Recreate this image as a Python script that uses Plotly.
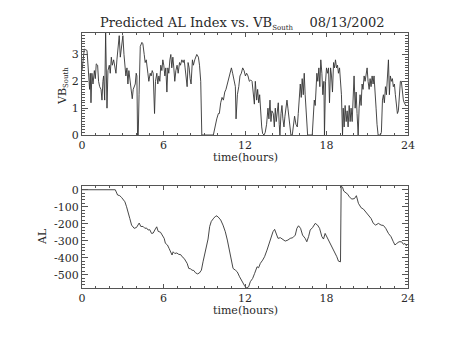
import plotly.graph_objects as go

# --- VB_South (top panel) ---------------------------------------------------
vb_hours = [
    0.00, 0.17, 0.37, 0.49, 0.56, 0.61, 0.66, 0.73, 0.81, 0.91, 0.98, 1.05, 1.15,
    1.22, 1.30, 1.40, 1.47, 1.54, 1.59, 1.67, 1.74, 1.84, 1.91, 2.01, 2.08, 2.16,
    2.23, 2.33, 2.42, 2.50, 2.57, 2.67, 2.74, 2.82, 2.91, 3.01, 3.09, 3.16, 3.23,
    3.31, 3.38, 3.45, 3.55, 3.62, 3.70, 3.77, 3.85, 3.92, 3.99, 4.04, 4.09, 4.14,
    4.20, 4.29, 4.41, 4.48, 4.58, 4.65, 4.73, 4.78, 4.85, 4.92, 5.02, 5.09, 5.17,
    5.24, 5.34, 5.41, 5.51, 5.58, 5.66, 5.73, 5.80, 5.88, 5.95, 6.02, 6.10, 6.17,
    6.25, 6.32, 6.39, 6.47, 6.54, 6.61, 6.69, 6.76, 6.83, 6.91, 7.00, 7.08, 7.18,
    7.25, 7.35, 7.45, 7.52, 7.59, 7.67, 7.74, 7.81, 7.89, 7.96, 8.03, 8.13, 8.20,
    8.30, 8.45, 8.57, 8.65, 8.74, 8.82, 9.67, 9.80, 9.92, 10.04, 10.11, 10.21,
    10.31, 10.41, 10.51, 10.60, 10.70, 10.80, 10.90, 11.00, 11.09, 11.19, 11.29,
    11.34, 11.44, 11.54, 11.63, 11.73, 11.83, 11.93, 12.03, 12.12, 12.22, 12.32,
    12.42, 12.52, 12.61, 12.69, 12.76, 12.86, 12.93, 13.01, 13.08, 13.15, 13.23,
    13.30, 13.40, 13.49, 13.59, 13.69, 13.76, 13.84, 13.91, 13.98, 14.08, 14.16,
    14.23, 14.30, 14.38, 14.45, 14.52, 14.57, 14.65, 14.72, 14.79, 14.87, 14.94,
    15.01, 15.09, 15.16, 15.23, 15.31, 15.38, 15.48, 15.55, 15.65, 15.75, 15.85,
    15.92, 15.99, 16.07, 16.14, 16.21, 16.29, 16.36, 16.43, 16.53, 16.61, 16.95,
    17.02, 17.10, 17.17, 17.22, 17.29, 17.36, 17.44, 17.51, 17.58, 17.66, 17.73,
    17.81, 17.85, 17.93, 18.00, 18.08, 18.15, 18.22, 18.30, 18.37, 18.44, 18.52,
    18.59, 18.66, 18.74, 18.81, 18.88, 18.96, 19.03, 19.10, 19.18, 19.23, 19.30,
    19.37, 19.45, 19.52, 19.59, 19.67, 19.74, 19.81, 19.89, 19.96, 20.03, 20.11,
    20.18, 20.25, 20.33, 20.40, 20.47, 20.55, 20.62, 20.69, 20.77, 20.84, 20.92,
    20.99, 21.06, 21.14, 21.21, 21.28, 21.36, 21.43, 21.50, 21.58, 21.65, 21.72,
    21.80, 21.97, 22.04, 22.12, 22.19, 22.26, 22.34, 22.41, 22.48, 22.56, 22.63,
    22.70, 22.78, 22.85, 22.92, 23.00, 23.07, 23.14, 23.22, 23.29, 23.37, 23.44,
    23.51, 23.59, 23.66, 23.73, 23.83, 23.93,
]
vb_south = [
    2.4, 3.2, 3.15, 2.05, 1.7, 2.3, 1.2, 2.3, 1.9, 2.4, 2.1, 2.65, 2.6,
    2.0, 1.8, 1.7, 1.3, 2.0, 2.2, 1.3, 3.8, 1.0, 2.4, 2.6, 2.3, 2.9,
    2.6, 2.8, 2.5, 2.3, 2.8, 3.3, 3.7, 2.9, 3.2, 3.7, 3.0, 2.6, 2.2,
    2.5, 1.9, 2.4, 2.0, 1.8, 1.35, 1.7, 1.8, 1.9, 2.3, 2.2, 0.0, 0.0,
    1.5, 3.3, 3.45, 3.4, 3.0, 2.7, 2.8, 2.5, 2.3, 2.0, 2.3, 2.2, 2.4,
    2.3, 0.8, 2.0, 2.3, 1.9, 2.2, 2.0, 2.6, 2.4, 2.8, 2.6, 2.2, 2.5,
    1.6, 2.5, 2.3, 2.8, 3.0, 2.5, 2.9, 2.5, 2.0, 2.4, 2.6, 2.3, 2.7,
    2.6, 2.8, 2.7, 2.8, 2.5, 2.1, 1.8, 2.7, 2.5, 2.1, 1.9, 2.8, 2.6,
    2.8, 3.0, 2.9, 2.6, 2.0, 0.0, 0.0, 0.4, 0.6, 0.8, 0.8, 1.2,
    1.4, 1.3, 1.6, 1.7, 1.9, 2.0, 2.3, 2.5, 2.3, 2.1, 1.8,
    0.6, 1.5, 1.8, 2.2, 2.3, 2.5, 2.4, 2.2, 2.3, 2.2, 2.0,
    2.05, 2.0, 1.6, 1.15, 2.0, 1.3, 1.7, 1.2, 1.5, 0.7, 0.3,
    0.05, 0.0, 0.1, 0.4, 1.0, 0.6, 1.3, 0.5, 0.9, 0.8, 0.3,
    1.0, 0.5, 0.9, 1.2, 0.4, 0.0, 0.8, 1.1, 0.6, 0.3, 0.7,
    1.0, 1.3, 1.0, 0.6, 0.2, 0.0, 0.0, 0.3, 0.7, 0.4, 0.3,
    0.8, 1.3, 1.9, 1.4, 2.1, 1.5, 2.3, 1.5, 0.6, 0.0, 0.0,
    0.6, 1.3, 1.1, 1.9, 2.3, 2.0, 2.5, 1.8, 2.8, 2.3, 1.5,
    2.0, 0.0, 2.0, 2.5, 2.3, 2.5, 1.2, 2.5, 2.2, 1.6, 2.7,
    2.5, 2.8, 2.5, 2.6, 2.3, 2.5, 2.0, 1.5, 0.0, 1.0, 0.3,
    1.1, 0.5, 0.9, 0.3, 1.1, 0.5, 1.0, 0.5, 1.3, 2.2, 1.0,
    1.6, 0.8, 0.0, 1.0, 1.5, 1.1, 1.9, 1.7, 2.2, 2.0, 2.3,
    2.5, 2.0, 1.7, 2.1, 1.8, 2.2, 1.9, 2.2, 1.3, 1.0, 0.4,
    0.0, 0.0, 0.1, 1.3, 1.5, 1.2, 1.8, 1.5, 2.4, 2.8, 1.5,
    2.2, 2.0, 2.1, 1.8, 1.9, 1.5, 1.1, 0.8, 0.9, 1.6, 2.0,
    2.0, 1.6, 1.3, 1.2, 1.1, 1.1,
]

# --- Predicted AL index (bottom panel) ----------------------------------------
al_hours = [
    0.00, 2.45, 2.62, 2.78, 2.91, 3.03, 3.16, 3.28, 3.40, 3.52, 3.65, 3.84, 4.01,
    4.10, 4.21, 4.33, 4.50, 4.63, 4.75, 4.87, 4.99, 5.12, 5.24, 5.36, 5.50, 5.61,
    5.78, 5.90, 6.05, 6.14, 6.29, 6.41, 6.54, 6.63, 6.71, 6.83, 6.98, 7.12, 7.27,
    7.37, 7.52, 7.61, 7.74, 7.86, 7.98, 8.10, 8.23, 8.35, 8.50, 8.64, 8.79, 8.91,
    9.03, 9.16, 9.28, 9.40, 9.52, 9.70, 9.87, 10.01, 10.21, 10.38, 10.55, 10.70,
    10.87, 10.99, 11.12, 11.29, 11.43, 11.60, 11.78, 11.97, 12.10, 12.27, 12.39,
    12.56, 12.71, 12.89, 13.00, 13.13, 13.30, 13.44, 13.62, 13.74, 13.94, 14.06,
    14.18, 14.30, 14.43, 14.60, 14.77, 14.96, 15.16, 15.33, 15.52, 15.70, 15.82,
    15.94, 16.09, 16.24, 16.43, 16.55, 16.68, 16.80, 16.97, 17.17, 17.34, 17.49,
    17.66, 17.78, 17.90, 18.02, 18.19, 18.34, 18.51, 18.63, 18.76, 18.88, 19.03,
    19.08, 19.18, 19.27, 19.42, 19.57, 19.67, 19.87, 20.06, 20.20, 20.35, 20.55,
    20.72, 20.89, 21.08, 21.28, 21.45, 21.62, 21.82, 22.02, 22.19, 22.36, 22.56,
    22.75, 22.92, 23.04, 23.17, 23.34, 23.53, 23.66, 23.78, 23.90,
]
al_index = [
    0, 0, -31, -35, -45, -55, -71, -100, -129, -169, -208, -227, -222,
    -210, -196, -216, -216, -227, -225, -237, -235, -257, -255, -237, -218, -245,
    -250, -266, -286, -315, -325, -345, -365, -384, -365, -375, -372, -380, -382,
    -394, -404, -414, -433, -463, -465, -473, -475, -488, -495, -490, -473, -424,
    -375, -335, -290, -216, -186, -167, -153, -159, -178, -208, -247, -296,
    -365, -424, -463, -473, -483, -512, -541, -565, -578, -571, -541,
    -522, -492, -453, -459, -433, -414, -394, -355, -325, -276, -247,
    -233, -257, -286, -282, -290, -302, -296, -286, -282, -267, -227,
    -212, -227, -267, -286, -306, -276, -237, -223, -198, -208, -227,
    -276, -290, -257, -276, -296, -325, -345, -365, -394, -420, -424,
    22, 15, -8, -16, -27, -41, -55, -52, -35, -80, -106,
    -114, -129, -149, -169, -198, -208, -198, -208, -210, -227, -257,
    -276, -306, -325, -316, -306, -306, -321, -316, -331,
]

x_ticks = [0, 6, 12, 18, 24]
vb_ticks = [0, 1, 2, 3]
al_ticks = [0, -100, -200, -300, -400, -500]
al_tick_text = ["0", "-100", "-200", "-300", "-400", "-500"]

# --- layout geometry (pixels of the 453x340 page) ----------------------------
W, H = 453, 340
L, R, T, B = 82, 408, 33, 288   # plot-area edges shared by both panels
TOP_PANEL = (33, 135)           # top/bottom pixel rows of upper panel
BOT_PANEL = (186, 288)          # top/bottom pixel rows of lower panel


def fx(px):
    return (px - L) / (R - L)


def fy(py):
    return (B - py) / (B - T)


FONT = "DejaVu Serif"
INK = "#2a2a2a"
AX = "#555555"

line_style = dict(color="#333333", width=0.9)

fig = go.Figure()
fig.add_trace(go.Scatter(x=vb_hours, y=vb_south, mode="lines", line=line_style,
                         xaxis="x", yaxis="y", showlegend=False, hoverinfo="skip"))
fig.add_trace(go.Scatter(x=al_hours, y=al_index, mode="lines", line=line_style,
                         xaxis="x2", yaxis="y2", showlegend=False, hoverinfo="skip"))


def axis(**kw):
    base = dict(showline=True, linecolor=AX, linewidth=1, mirror="allticks",
                ticks="inside", tickcolor=AX, tickwidth=1, showgrid=False,
                zeroline=False, tickfont=dict(family=FONT, size=11, color=INK))
    base.update(kw)
    return base


x_common = dict(range=[0, 24], tickmode="array", tickvals=x_ticks, ticklen=4,
                minor=dict(tickmode="linear", tick0=0, dtick=1, ticklen=2,
                           ticks="inside", tickcolor=AX, showgrid=False))

fig.update_layout(
    width=W, height=H,
    margin=dict(l=L, r=W - R, t=T, b=H - B, pad=0),
    paper_bgcolor="white", plot_bgcolor="white",
    xaxis=axis(domain=[0, 1], anchor="y", **x_common),
    yaxis=axis(domain=[fy(TOP_PANEL[1]), fy(TOP_PANEL[0])], anchor="x",
               range=[0, 3.8], tickmode="array", tickvals=vb_ticks, ticklen=6,
               minor=dict(tickmode="linear", tick0=0, dtick=0.1, ticklen=3,
                          ticks="inside", tickcolor=AX, showgrid=False)),
    xaxis2=axis(domain=[0, 1], anchor="y2", **x_common),
    yaxis2=axis(domain=[fy(BOT_PANEL[1]), fy(BOT_PANEL[0])], anchor="x2",
                range=[-578, 22], tickmode="array", tickvals=al_ticks,
                ticktext=al_tick_text, ticklen=6,
                minor=dict(tickmode="linear", tick0=0, dtick=20, ticklen=3,
                           ticks="inside", tickcolor=AX, showgrid=False)),
)

sub = "<sub><span style='font-size:7px'>South</span></sub>"
labels = [
    (fx(242), fy(24), "Predicted AL Index vs. VB" + sub + "\u00a0\u00a0\u00a0\u00a008/13/2002", 13, 0),
    (fx(245), fy(157), "time(hours)", 11, 0),
    (fx(245), fy(310), "time(hours)", 11, 0),
    (fx(63), fy(86), "VB" + sub, 11, -90),
    (fx(42), fy(237), "AL", 11, -90),
]
for x, y, text, size, angle in labels:
    fig.add_annotation(x=x, y=y, xref="paper", yref="paper", text=text,
                       showarrow=False, textangle=angle, xanchor="center",
                       yanchor="middle", font=dict(family=FONT, size=size, color=INK))

fig.write_html("out.html")
